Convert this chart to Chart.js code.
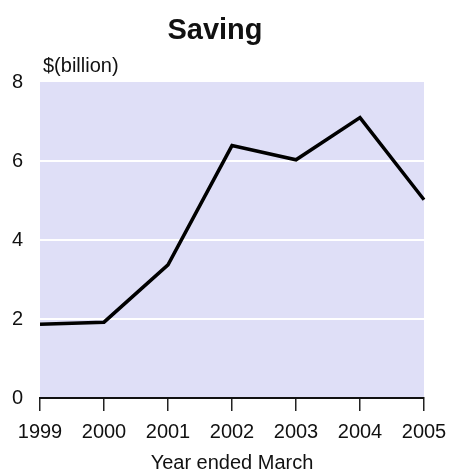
<!DOCTYPE html>
<html>
<head>
<meta charset="utf-8">
<script src="https://cdn.jsdelivr.net/npm/chart.js@4"></script>
<style>
  html, body { margin: 0; padding: 0; background: #fff; }
  #wrap { width: 451px; height: 471px; }
</style>
</head>
<body>
<div id="wrap"><canvas id="saving" width="451" height="471"></canvas></div>
<script>
// values
const YEARS = ['1999', '2000', '2001', '2002', '2003', '2004', '2005'];
const SAVING = [1.87, 1.92, 3.37, 6.39, 6.03, 7.1, 5.02];
const Y_TICKS = [0, 2, 4, 6, 8];

const FONT = '"Liberation Sans", Arial, sans-serif';
const PLOT_BG = '#DFDFF7';

// lavender plot area + the title and unit label above it
const decor = {
  id: 'decor',
  beforeDraw(chart) {
    const { ctx, chartArea: a } = chart;
    ctx.save();
    ctx.fillStyle = PLOT_BG;
    ctx.fillRect(a.left, a.top, a.right - a.left, a.bottom - a.top);
    ctx.restore();
  },
  afterDraw(chart) {
    const { ctx, chartArea: a } = chart;
    ctx.save();
    ctx.fillStyle = '#111';
    ctx.textBaseline = 'alphabetic';
    ctx.textAlign = 'center';
    ctx.font = `bold 29px ${FONT}`;
    ctx.fillText('Saving', 215, 39);
    ctx.textAlign = 'left';
    ctx.font = `20px ${FONT}`;
    ctx.fillText('$(billion)', a.left + 3, 72);
    ctx.restore();
  }
};

new Chart(document.getElementById('saving'), {
  type: 'line',
  data: {
    labels: YEARS,
    datasets: [{
      data: SAVING,
      borderColor: '#000',
      borderWidth: 3.5,
      pointRadius: 0,
      tension: 0,
      fill: false,
    }],
  },
  options: {
    responsive: false,
    animation: false,
    events: [],
    layout: { padding: { left: 0, right: 27, top: 82, bottom: 0 } },
    plugins: { legend: { display: false }, tooltip: { enabled: false } },
    scales: {
      x: {
        offset: false,
        afterFit(scale) {
          scale.height = 73;
          // tick padding is also added sideways; keep the plot edge where the reference has it
          scale.paddingLeft = 24;
          scale.paddingRight = 24;
        },
        grid: { drawOnChartArea: false, drawTicks: true, tickLength: 13, color: '#222', lineWidth: 1.5 },
        border: { display: true, color: '#111', width: 2 },
        ticks: { color: '#111', font: { family: FONT, size: 20 }, padding: 9, maxRotation: 0, autoSkip: false },
        title: {
          display: true,
          text: 'Year ended March',
          color: '#111',
          font: { family: FONT, size: 20 },
          padding: { top: 0, bottom: -4 },
        },
      },
      y: {
        min: 0,
        max: 8,
        afterFit(scale) { scale.width = 40; },
        afterBuildTicks(scale) { scale.ticks = Y_TICKS.map(v => ({ value: v })); },
        grid: {
          drawTicks: false,
          color: ctx => (ctx.tick && ctx.tick.value > 0 && ctx.tick.value < 8 ? '#FFFFFF' : 'rgba(0,0,0,0)'),
          lineWidth: 2,
        },
        border: { display: false },
        ticks: { color: '#111', font: { family: FONT, size: 20 }, padding: 17 },
      },
    },
  },
  plugins: [decor],
});
</script>
</body>
</html>
